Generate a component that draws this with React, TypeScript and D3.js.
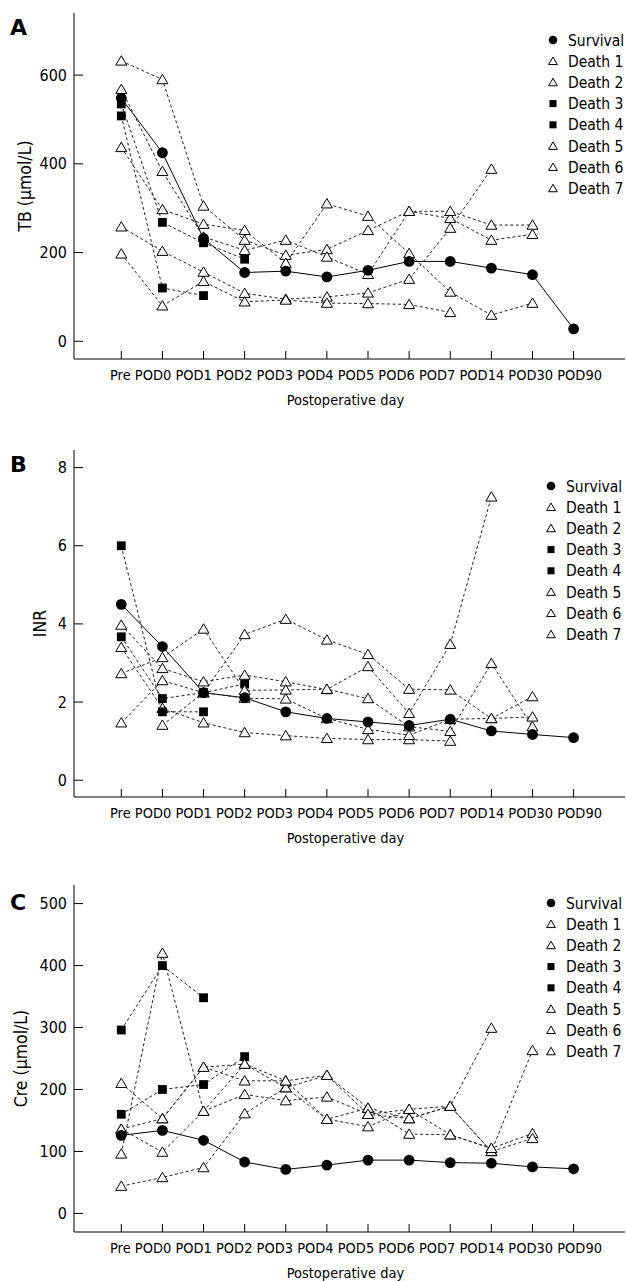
import React from 'react';
import * as d3 from 'd3';

// x categories
const days = ['Pre', 'POD0', 'POD1', 'POD2', 'POD3', 'POD4', 'POD5', 'POD6', 'POD7', 'POD14', 'POD30', 'POD90'];
const seriesNames = ['Survival', 'Death 1', 'Death 2', 'Death 3', 'Death 4', 'Death 5', 'Death 6', 'Death 7'];
const seriesShapes = ['circle', 'triangle', 'triangle', 'square', 'square', 'triangle', 'triangle', 'triangle'];

type V = number | null;

// A: TB (umol/L)
const tbSurvival: V[] = [548, 425, 232, 155, 158, 145, 160, 180, 180, 165, 150, 28];
const tbDeath1: V[] = [632, 590, 305, 228, 194, 207, 250, 293, 277, 228, 241, null];
const tbDeath2: V[] = [568, 383, 235, 205, 228, 190, 151, 293, 293, 262, 262, null];
const tbDeath3: V[] = [535, 268, 222, 185, null, null, null, null, null, null, null, null];
const tbDeath4: V[] = [508, 120, 103, null, null, null, null, null, null, null, null, null];
const tbDeath5: V[] = [437, 297, 264, 250, 176, 310, 282, 198, 111, 59, 86, null];
const tbDeath6: V[] = [258, 203, 156, 108, 95, 100, 109, 140, 255, 388, null, null];
const tbDeath7: V[] = [197, 80, 135, 89, 93, 86, 85, 83, 65, null, null, null];
const tbTicks = [0, 200, 400, 600];

// B: INR
const inrSurvival: V[] = [4.5, 3.42, 2.24, 2.11, 1.75, 1.58, 1.49, 1.4, 1.56, 1.26, 1.17, 1.09];
const inrDeath1: V[] = [3.97, 2.86, 2.52, 2.69, 2.52, 2.32, 2.91, 1.71, 3.48, 7.25, null, null];
const inrDeath2: V[] = [3.4, 1.84, 1.47, 1.22, 1.14, 1.07, 1.04, 1.04, 1.0, null, null, null];
const inrDeath3: V[] = [6.0, 1.75, 1.75, null, null, null, null, null, null, null, null, null];
const inrDeath4: V[] = [3.67, 2.09, 2.24, 2.46, null, null, null, null, null, null, null, null];
const inrDeath5: V[] = [2.73, 3.14, 3.87, 2.3, 2.31, 2.33, 2.09, 1.37, 1.25, 2.99, 1.37, null];
const inrDeath6: V[] = [null, 1.41, 2.24, 3.73, 4.12, 3.59, 3.22, 2.33, 2.31, 1.58, 2.14, null];
const inrDeath7: V[] = [1.47, 2.55, 2.24, 2.1, 2.08, 1.58, 1.3, 1.15, 1.56, 1.58, 1.62, null];
const inrTicks = [0, 2, 4, 6, 8];

// C: Cre (umol/L)
const creSurvival: V[] = [126, 134, 118, 83, 71, 78, 86, 86, 82, 81, 75, 72];
const creDeath1: V[] = [210, 153, 236, 214, 214, 152, 170, 128, 127, 105, 129, null];
const creDeath2: V[] = [96, 420, 165, 192, 182, 188, 160, 153, 173, 299, null, null];
const creDeath3: V[] = [296, 400, 348, null, null, null, null, null, null, null, null, null];
const creDeath4: V[] = [160, 200, 208, 253, null, null, null, null, null, null, null, null];
const creDeath5: V[] = [136, 99, 165, 241, 203, 152, 140, 168, 173, 100, 121, null];
const creDeath6: V[] = [44, 58, 74, 161, 203, 223, 170, 153, 173, 100, 263, null];
const creDeath7: V[] = [136, 153, 236, 241, 214, 223, 160, 168, 127, 105, null, null];
const creTicks = [0, 100, 200, 300, 400, 500];

const FONT = "'DejaVu Sans Condensed', 'Liberation Sans', sans-serif";

const panels = [
  {
    letter: 'A', yTitle: 'TB (\u03bcmol/L)', series: [tbSurvival, tbDeath1, tbDeath2, tbDeath3, tbDeath4, tbDeath5, tbDeath6, tbDeath7],
    ticks: tbTicks, domain: [-40, 740], top: 13, bottom: 359, legendX: 553, legendY: 40, titleX: 25, letterY: 35,
  },
  {
    letter: 'B', yTitle: 'INR', series: [inrSurvival, inrDeath1, inrDeath2, inrDeath3, inrDeath4, inrDeath5, inrDeath6, inrDeath7],
    ticks: inrTicks, domain: [-0.43, 8.45], top: 450, bottom: 797, legendX: 551, legendY: 486, titleX: 40, letterY: 472,
  },
  {
    letter: 'C', yTitle: 'Cre (\u03bcmol/L)', series: [creSurvival, creDeath1, creDeath2, creDeath3, creDeath4, creDeath5, creDeath6, creDeath7],
    ticks: creTicks, domain: [-30, 530], top: 885, bottom: 1232, legendX: 551, legendY: 903, titleX: 21, letterY: 910,
  },
];

const x = d3.scaleLinear().domain([-1.15, 12.25]).range([74, 625]);

const Marker = ({ shape, cx, cy, s = 1 }: { shape: string; cx: number; cy: number; s?: number }) => {
  if (shape === 'circle') return <circle cx={cx} cy={cy} r={5.4 * s} fill="#000" />;
  if (shape === 'square') return <rect x={cx - 4.4 * s} y={cy - 4.4 * s} width={8.8 * s} height={8.8 * s} fill="#000" />;
  const w = 5.5 * s;
  return (
    <path
      d={`M${cx},${cy - 5.2 * s}L${cx + w},${cy + 4.2 * s}L${cx - w},${cy + 4.2 * s}Z`}
      fill="#fff" stroke="#000" strokeWidth={1} />
  );
};

const Panel = ({ p }: { p: typeof panels[number] }) => {
  const y = d3.scaleLinear().domain(p.domain).range([p.bottom, p.top]);
  const line = d3.line<V>()
    .defined(d => d != null)
    .x((_, i) => x(i))
    .y(d => y(d as number));
  const mid = (p.top + p.bottom) / 2;
  return (
    <g>
      <text x={10} y={p.letterY} fontFamily="'DejaVu Sans', sans-serif" fontWeight="bold" fontSize={22}>{p.letter}</text>
      {/* axes */}
      <line x1={74} x2={74} y1={p.top} y2={p.bottom} stroke="#000" />
      <line x1={74} x2={625} y1={p.bottom} y2={p.bottom} stroke="#000" />
      {p.ticks.map(t => (
        <g key={t}>
          <line x1={74} x2={83} y1={y(t)} y2={y(t)} stroke="#000" />
          <text x={67} y={y(t) + 5.5} textAnchor="end" fontSize={16} fontFamily={FONT}>{t}</text>
        </g>
      ))}
      {days.map((d, i) => (
        <line key={d} x1={x(i)} x2={x(i)} y1={p.bottom - 8} y2={p.bottom} stroke="#000" />
      ))}
      {/* category labels run as one line of text, as in the original */}
      <text x={110} y={p.bottom + 21} fontSize={14.5} fontFamily={FONT}
        textLength={492} lengthAdjust="spacingAndGlyphs" style={{ whiteSpace: 'pre' }}>{days.join(' ')}</text>
      <text x={x(5.45)} y={p.bottom + 46} textAnchor="middle" fontSize={14.5} fontFamily={FONT}>Postoperative day</text>
      <text transform={`translate(${p.titleX},${mid}) rotate(-90)`} textAnchor="middle" dy="0.35em" fontSize={17.5} fontFamily={FONT}>{p.yTitle}</text>
      {/* lines */}
      {p.series.map((s, k) => (
        <path key={k} d={line(s) || ''} fill="none" stroke={k === 0 ? '#000' : '#222'}
          strokeWidth={1} strokeDasharray={k === 0 ? undefined : '3,2.5'} />
      ))}
      {/* markers */}
      {p.series.map((s, k) => (k === 0 ? null : s.map((v, i) => v == null ? null :
        <Marker key={`${k}-${i}`} shape={seriesShapes[k]} cx={x(i)} cy={y(v)} />)))}
      {p.series[0].map((v, i) => v == null ? null : <Marker key={`s-${i}`} shape="circle" cx={x(i)} cy={y(v)} />)}
      {/* legend */}
      {seriesNames.map((n, k) => (
        <g key={n} transform={`translate(${p.legendX},${p.legendY + k * 21.2})`}>
          <Marker shape={seriesShapes[k]} cx={0} cy={0} s={0.8} />
          <text x={15} y={5.5} fontSize={15.5} fontFamily={FONT}>{n}</text>
        </g>
      ))}
    </g>
  );
};

export default function App() {
  return (
    <svg width={626} height={1281} style={{ position: 'absolute', left: 0, top: 0, background: '#fff' }}>
      <rect width={626} height={1281} fill="#fff" />
      {panels.map(p => <Panel key={p.letter} p={p} />)}
    </svg>
  );
}
